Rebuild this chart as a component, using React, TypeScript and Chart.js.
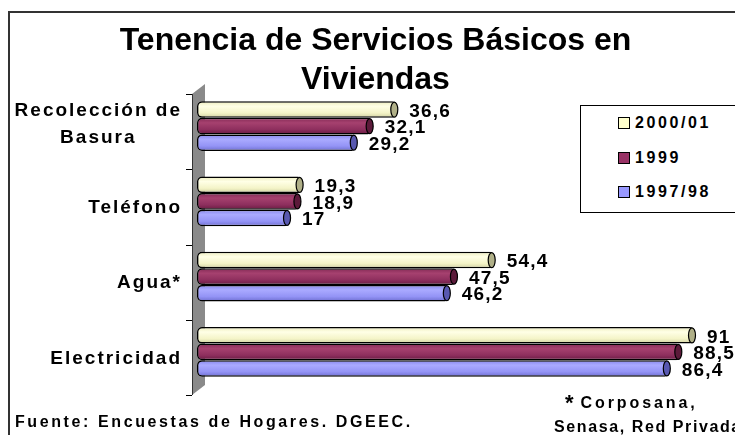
import React, { useEffect, useRef } from "react";
import { Chart, registerables } from "chart.js";

Chart.register(...registerables);

// ---- data ----
const titleLines = ["Tenencia de Servicios Básicos en", "Viviendas"];
const categories: string[][] = [["Recolección de", "Basura"], ["Teléfono"], ["Agua*"], ["Electricidad"]];
const seriesLabels = ["2000/01", "1999", "1997/98"];
const values2000 = [36.6, 19.3, 54.4, 91];
const values1999 = [32.1, 18.9, 47.5, 88.5];
const values1997 = [29.2, 17, 46.2, 86.4];
const seriesValues = [values2000, values1999, values1997];
const sourceNote = "Fuente: Encuestas de Hogares. DGEEC.";
const starNote = ["Corposana,", "Senasa, Red Privada"];

// ---- styles ----
const FONT = '"Liberation Sans", Arial, sans-serif';
const seriesColors = ["#FFFFCC", "#993366", "#9999FF"];
const shades = [
  ["#ECECBC", "#FFFFE6", "#F4F4C8", "#D0D0A0"],
  ["#842A56", "#A6416F", "#8E2F5E", "#681B42"],
  ["#8686EC", "#AAAAFF", "#9494F6", "#6E6ED0"],
];
const capColors = ["#B0B088", "#5C1A3A", "#5858B0"];
const CAT_PCT = 0.66;

const fmt = (v: number) => String(v).replace(".", ",");

function gradientFor(c: any, i: number) {
  const chart = c.chart;
  const a = chart.chartArea;
  if (!a || c.dataIndex === undefined) return seriesColors[i];
  const y = chart.scales.y;
  const band = (a.bottom - a.top) / categories.length;
  const size = (band * CAT_PCT) / seriesValues.length;
  const center = y.getPixelForValue(c.dataIndex) + (i - (seriesValues.length - 1) / 2) * size;
  const g = chart.ctx.createLinearGradient(0, center - size / 2, 0, center + size / 2);
  const stops = [0, 0.3, 0.7, 1];
  shades[i].forEach((col, k) => g.addColorStop(stops[k], col));
  return g;
}

const decor = {
  id: "decor",
  beforeDatasetsDraw(chart: any) {
    const { ctx, chartArea: a } = chart;
    const n = categories.length;
    const band = (a.bottom - a.top) / n;
    const fx = a.left - 5;
    const fTop = a.top + 5.5;
    const fBot = a.bottom + 5.5;
    ctx.save();
    // side wall
    ctx.beginPath();
    ctx.moveTo(fx, fBot);
    ctx.lineTo(fx, fTop);
    ctx.lineTo(fx + 13, fTop - 10);
    ctx.lineTo(fx + 13, fBot - 10);
    ctx.closePath();
    ctx.fillStyle = "#8a8a8a";
    ctx.fill();
    ctx.strokeStyle = "#333";
    ctx.lineWidth = 1;
    ctx.beginPath();
    ctx.moveTo(fx + 0.5, fTop);
    ctx.lineTo(fx + 0.5, fBot);
    ctx.stroke();
    // ticks
    ctx.strokeStyle = "#000";
    ctx.beginPath();
    for (let k = 0; k <= n; k++) {
      const y = Math.round(fTop + k * band) + 0.5;
      ctx.moveTo(fx - 6, y);
      ctx.lineTo(fx, y);
    }
    ctx.stroke();
    // category labels
    ctx.font = `bold 19px ${FONT}`;
    (ctx as any).letterSpacing = "2px";
    ctx.fillStyle = "#000";
    ctx.textBaseline = "middle";
    ctx.textAlign = "center";
    const yScale = chart.scales.y;
    const right = a.left - 15;
    categories.forEach((lines, i) => {
      const cy = yScale.getPixelForValue(i) + (lines.length > 1 ? -1.5 : 6.5);
      const lh = 27;
      const maxW = Math.max(...lines.map((l) => ctx.measureText(l).width));
      const cx = right - maxW / 2;
      lines.forEach((l, j) => ctx.fillText(l, cx, cy + (j - (lines.length - 1) / 2) * lh));
    });
    ctx.restore();
  },
  afterDatasetsDraw(chart: any) {
    const { ctx } = chart;
    ctx.save();
    chart.data.datasets.forEach((ds: any, i: number) => {
      const meta = chart.getDatasetMeta(i);
      meta.data.forEach((el: any, j: number) => {
        const { x, y, height } = el.getProps(["x", "y", "height"], true);
        // cylinder end cap
        ctx.beginPath();
        ctx.ellipse(x - 3, y, 3.5, height / 2 - 0.75, 0, 0, Math.PI * 2);
        ctx.fillStyle = capColors[i];
        ctx.fill();
        ctx.strokeStyle = "#000";
        ctx.lineWidth = 1.2;
        ctx.stroke();
        // value label
        ctx.font = `bold 19px ${FONT}`;
        (ctx as any).letterSpacing = "1.2px";
        ctx.fillStyle = "#000";
        ctx.textAlign = "left";
        ctx.textBaseline = "middle";
        ctx.fillText(fmt(ds.data[j]), x + 12, y + 2);
      });
    });
    ctx.restore();
  },
};

export default function App() {
  const ref = useRef<HTMLCanvasElement | null>(null);

  useEffect(() => {
    if (!ref.current) return;
    const chart = new Chart(ref.current, {
      type: "bar",
      data: {
        labels: categories.map((c) => c.join(" ")),
        datasets: seriesValues.map((data, i) => ({
          label: seriesLabels[i],
          data,
          backgroundColor: (c: any) => gradientFor(c, i),
          borderColor: "#000",
          borderWidth: 1.5,
          borderSkipped: false,
          borderRadius: 5,
          categoryPercentage: CAT_PCT,
          barPercentage: 1,
        })),
      },
      options: {
        indexAxis: "y",
        responsive: false,
        animation: false,
        events: [],
        layout: { padding: { left: 189, right: 9.7, top: 80.5, bottom: 53.5 } },
        scales: {
          x: { display: false, min: 0, max: 98 },
          y: { display: false },
        },
        plugins: {
          legend: { display: false },
          title: { display: false },
          tooltip: { enabled: false },
        },
      } as any,
      plugins: [decor],
    });
    return () => chart.destroy();
  }, []);

  const textBase: React.CSSProperties = {
    position: "absolute",
    fontFamily: FONT,
    fontWeight: "bold",
    color: "#000",
    whiteSpace: "nowrap",
  };

  return (
    <div style={{ position: "relative", width: 735, height: 435, marginBottom: -8, overflow: "hidden" }}>
      <div
        style={{
          position: "absolute",
          left: 0,
          top: 3,
          right: 0,
          bottom: 0,
          borderTop: "2px solid #333",
          borderLeft: "2px solid #333",
        }}
      />
      <canvas ref={ref} width={735} height={435} style={{ position: "absolute", left: 0, top: 0 }} />
      <div style={{ ...textBase, left: 0, top: 12, width: 735, textAlign: "center", fontSize: 32, lineHeight: "39px" }}>
        {titleLines.map((t) => (
          <div key={t}>{t}</div>
        ))}
      </div>
      <div
        style={{
          position: "absolute",
          left: 572,
          top: 97,
          right: 0,
          height: 108,
          borderTop: "1px solid #000",
          borderLeft: "1px solid #000",
          borderBottom: "1px solid #000",
          boxSizing: "border-box",
          background: "#fff",
        }}
      >
        {seriesLabels.map((s, i) => (
          <div
            key={s}
            style={{
              position: "absolute",
              left: 37,
              top: 18 + i * 34.5 - 9,
              height: 16,
              display: "flex",
              alignItems: "center",
            }}
          >
            <div
              style={{
                width: 12,
                height: 12,
                boxSizing: "border-box",
                border: "1.5px solid #000",
                background: seriesColors[i],
                marginRight: 5,
              }}
            />
            <span style={{ fontFamily: FONT, fontWeight: "bold", fontSize: 16, letterSpacing: "2.6px", lineHeight: "16px" }}>
              {s}
            </span>
          </div>
        ))}
      </div>
      <div style={{ ...textBase, left: 7, top: 403.5, fontSize: 16, lineHeight: "20px", letterSpacing: "2.6px" }}>
        {sourceNote}
      </div>
      <div style={{ ...textBase, left: 557, top: 385, fontSize: 16, lineHeight: "20px" }}>
        <span style={{ fontSize: 22, verticalAlign: "top", lineHeight: "20px" }}>*</span>
        <span style={{ marginLeft: 7, letterSpacing: "2.9px" }}>{starNote[0]}</span>
      </div>
      <div style={{ ...textBase, left: 546, top: 408.5, fontSize: 16, lineHeight: "20px", letterSpacing: "1.6px" }}>
        {starNote[1]}
      </div>
    </div>
  );
}
